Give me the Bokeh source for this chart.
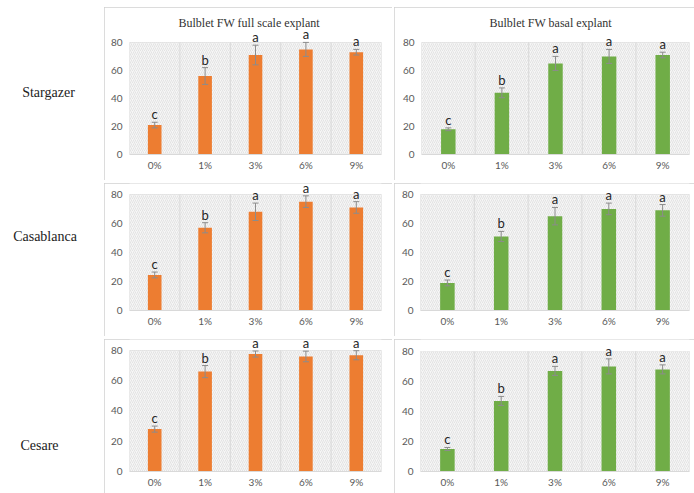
from bokeh.plotting import figure
from bokeh.models import (Range1d, FixedTicker, ColumnDataSource, Whisker, LabelSet,
                          BoxAnnotation, TeeHead)
from bokeh.layouts import row, column
from bokeh.embed import file_html
from bokeh.resources import INLINE
from bokeh.core.properties import value

# ---------------- data ----------------
concentrations = ["0%", "1%", "3%", "6%", "9%"]
cultivars = ["Stargazer", "Casablanca", "Cesare"]
panel_titles = ["Bulblet FW full scale explant", "Bulblet FW basal explant"]

stargazer_full = [21, 56, 71, 75, 73]
stargazer_full_err = [2, 6, 7, 5, 2]
stargazer_basal = [18, 44, 65, 70, 71]
stargazer_basal_err = [1, 3.5, 5, 5, 2]

casablanca_full = [24.5, 57, 68, 75, 71]
casablanca_full_err = [2, 3.5, 6, 4, 4]
casablanca_basal = [19, 51, 65, 70, 69]
casablanca_basal_err = [2, 3.5, 6, 4, 4]

cesare_full = [28, 66, 77.6, 76, 76.8]
cesare_full_err = [2, 4, 2, 3.5, 3]
cesare_basal = [15, 47, 67, 70, 68]
cesare_basal_err = [1, 3, 3, 5, 3]

letters = ["c", "b", "a", "a", "a"]

y_ticks = [0, 20, 40, 60, 80]

ORANGE = "#ED7D31"
GREEN = "#70AD47"
GRID = "#d9d9d9"
TICK_TXT = "#595959"


def make_panel(vals, errs, color, width, height, borders, y_top, title=None, title_offset=0):
    left, right, top, bottom = borders
    n = len(concentrations)
    xs = [i + 0.5 for i in range(n)]
    src = ColumnDataSource(dict(
        x=xs, top=vals,
        upper=[v + e for v, e in zip(vals, errs)],
        lower=[v - e for v, e in zip(vals, errs)],
        letter=letters,
    ))
    p = figure(width=width, height=height, output_backend="svg", toolbar_location=None,
               x_range=Range1d(0, n), y_range=Range1d(y_ticks[0], y_top),
               min_border_left=left, min_border_right=right,
               min_border_top=top, min_border_bottom=bottom,
               background_fill_color="white", border_fill_color="white",
               outline_line_color=None, title=title)
    p.styles = {"outline": "1px solid #d0d0d0", "outline-offset": "-1px"}
    if title is not None:
        p.title.align = "left"
        p.title.offset = title_offset
        p.title.text_font = "Liberation Serif"
        p.title.text_font_style = "normal"
        p.title.text_font_size = "12px"
        p.title.text_color = "#333333"
        p.title.standoff = 0

    # hatched plot area (value range only)
    p.add_layout(BoxAnnotation(left=0, right=n, bottom=y_ticks[0], top=y_ticks[-1],
                               fill_color="#f6f6f6", fill_alpha=1.0, line_color=None,
                               hatch_pattern="/", hatch_color="#d6d6d6",
                               hatch_scale=4, hatch_weight=0.6, level="underlay"))

    # vertical category boundary lines
    bnds = list(range(n + 1))
    p.segment(x0=bnds, y0=[y_ticks[0]] * len(bnds), x1=bnds, y1=[y_ticks[-1]] * len(bnds),
              line_color=GRID, line_width=1)

    p.vbar(x="x", top="top", width=0.27, source=src, fill_color=color, line_color=None)

    w = Whisker(base="x", upper="upper", lower="lower", source=src,
                line_color="#8c8c8c", line_width=1, level="annotation",
                upper_head=TeeHead(size=6, line_color="#8c8c8c", line_width=1),
                lower_head=TeeHead(size=6, line_color="#8c8c8c", line_width=1))
    p.add_layout(w)

    p.add_layout(LabelSet(x="x", y="upper", text="letter", source=src,
                          text_align="center", text_baseline="alphabetic", y_offset=3,
                          text_font=value("Lato"), text_font_size="13px",
                          text_color="#262626"))

    # axes
    p.xaxis.ticker = FixedTicker(ticks=xs)
    p.xaxis.major_label_overrides = {x: c for x, c in zip(xs, concentrations)}
    p.yaxis.ticker = FixedTicker(ticks=y_ticks)
    for ax in (p.xaxis, p.yaxis):
        ax.major_tick_line_color = None
        ax.minor_tick_line_color = None
        ax.major_tick_out = 0
        ax.major_tick_in = 0
        ax.minor_tick_out = 0
        ax.major_label_text_font = "Lato"
        ax.major_label_text_font_size = "10px"
        ax.major_label_text_color = TICK_TXT
    p.xaxis.major_label_standoff = 4
    p.yaxis.major_label_standoff = 7
    p.xaxis.axis_line_color = GRID
    p.yaxis.axis_line_color = None

    # horizontal grid at value ticks; vertical handled by boundary segments
    p.ygrid.ticker = FixedTicker(ticks=y_ticks)
    p.ygrid.grid_line_color = GRID
    p.xgrid.grid_line_color = None
    return p


data = [
    (stargazer_full, stargazer_full_err, stargazer_basal, stargazer_basal_err),
    (casablanca_full, casablanca_full_err, casablanca_basal, casablanca_basal_err),
    (cesare_full, cesare_full_err, cesare_basal, cesare_basal_err),
]
row_heights = [173, 153, 157]
borders_left = [(25, 11, 22, 26), (25, 11, 0, 26), (25, 11, 0, 25)]
borders_right = [(27, 6, 22, 26), (26, 6, 0, 26), (26, 6, 0, 24)]
ytop_left = [89.2, 87.5, 87.2]
ytop_right = [89.2, 87.5, 87.9]
title_offsets = [49, 68]

rows = []
for i, (fv, fe, bv, be) in enumerate(data):
    t1 = panel_titles[0] if i == 0 else None
    t2 = panel_titles[1] if i == 0 else None
    pl = make_panel(fv, fe, ORANGE, 288, row_heights[i], borders_left[i], ytop_left[i],
                    t1, title_offsets[0])
    pr = make_panel(bv, be, GREEN, 301, row_heights[i], borders_right[i], ytop_right[i],
                    t2, title_offsets[1])
    rows.append(row(pl, pr, spacing=2))

grid = column(*rows, spacing=3, margin=(7, 0, 0, 0))

# row labels
label_y = [92, 236, 445]
label_x = [48, 44.5, 39]
lab = figure(width=104, height=493, output_backend="svg", toolbar_location=None,
             x_range=Range1d(0, 104), y_range=Range1d(493, 0),
             min_border=0, outline_line_color=None, background_fill_color="white",
             border_fill_color="white")
lab.axis.visible = False
lab.grid.visible = False
lab.text(x=label_x, y=label_y, text=cultivars, text_align="center", text_baseline="middle",
         text_font=value("Liberation Serif"), text_font_size="14px", text_color="#222222")

layout = row(lab, grid, spacing=0)

open("out.html", "w").write(file_html(layout, INLINE))
